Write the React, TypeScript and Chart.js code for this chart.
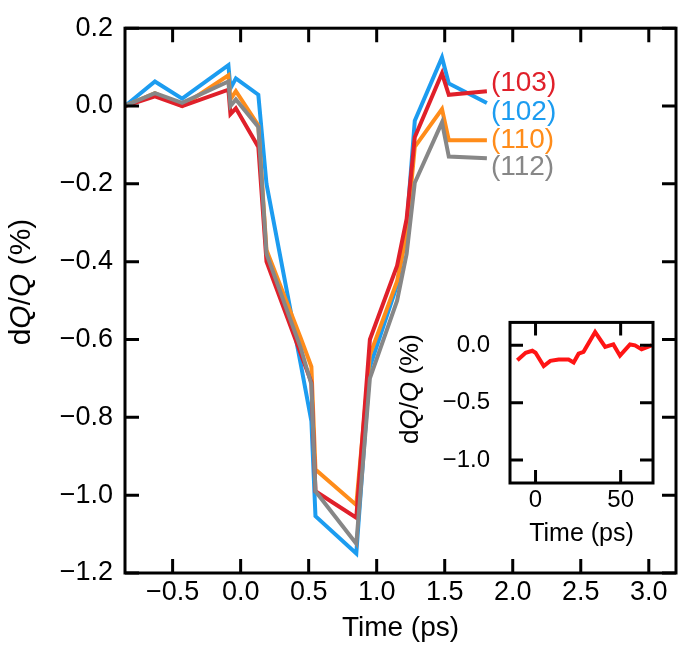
import React, { useEffect, useRef } from "react";
import { Chart, registerables } from "chart.js";
Chart.register(...registerables);

// ---------- data ----------
const TIME_PS = [-0.85, -0.63, -0.43, -0.09, -0.075, -0.035, 0.13, 0.19, 0.44, 0.52, 0.55, 0.85, 0.95, 1.15, 1.22, 1.28, 1.48, 1.53, 1.81];
const S103 = [0.0, 0.025, 0.0, 0.042, -0.021, -0.006, -0.105, -0.40, -0.635, -0.71, -0.99, -1.058, -0.60, -0.41, -0.29, -0.08, 0.084, 0.029, 0.038];
const S102 = [0.0, 0.063, 0.019, 0.105, 0.045, 0.071, 0.029, -0.2, -0.66, -0.81, -1.054, -1.15, -0.67, -0.46, -0.31, -0.038, 0.125, 0.058, 0.008];
const S110 = [0.0, 0.033, 0.0, 0.079, 0.017, 0.038, -0.05, -0.37, -0.595, -0.67, -0.934, -1.025, -0.64, -0.45, -0.33, -0.105, -0.008, -0.088, -0.088];
const S112 = [0.0, 0.033, 0.008, 0.063, 0.0, 0.017, -0.054, -0.38, -0.62, -0.715, -0.99, -1.125, -0.70, -0.50, -0.38, -0.197, -0.042, -0.13, -0.134];

const SERIES_NAMES = ["(112)", "(103)", "(110)", "(102)"];
const SERIES_COLORS = ["#878787", "#e0202a", "#ff8c1a", "#1c9cf0"];
const LABEL_VALUES = [-0.158, 0.058, -0.088, -0.015];

const X_TICKS = [-0.5, 0, 0.5, 1, 1.5, 2, 2.5, 3];
const Y_TICKS = [0.2, 0, -0.2, -0.4, -0.6, -0.8, -1.0, -1.2];

const INSET_T = [-10.7, -5.8, -1.9, 0, 4.8, 8.7, 13.6, 19.4, 22.4, 25.3, 28.2, 35, 40.9, 45.7, 49.6, 55.5, 58.4, 62.3, 68.2];
const INSET_V = [-0.13, -0.065, -0.047, -0.065, -0.18, -0.135, -0.124, -0.124, -0.15, -0.073, -0.057, 0.116, -0.013, 0.008, -0.09, 0.008, 0.0, -0.034, 0.0];
const INSET_X_TICKS = [0, 50];
const INSET_Y_TICKS = [0, -0.5, -1.0];

const FONT = "'Liberation Sans', Arial, Helvetica, sans-serif";

function fmt(v: number, d: number) {
  if (Math.abs(v) < 1e-9) v = 0;
  const s = v.toFixed(d);
  return s.replace("-", "\u2212");
}

function drawYTitle(ctx: CanvasRenderingContext2D, cx: number, cy: number, size: number) {
  const parts: [string, boolean][] = [["d", false], ["Q", true], ["/", false], ["Q", true], [" (%)", false]];
  ctx.save();
  ctx.translate(cx, cy);
  ctx.rotate(-Math.PI / 2);
  ctx.fillStyle = "#000";
  ctx.textBaseline = "middle";
  ctx.textAlign = "left";
  const widths = parts.map(([t, it]) => {
    ctx.font = `${it ? "italic " : ""}${size}px ${FONT}`;
    return ctx.measureText(t).width;
  });
  const total = widths.reduce((a, b) => a + b, 0);
  let x = -total / 2;
  parts.forEach(([t, it], i) => {
    ctx.font = `${it ? "italic " : ""}${size}px ${FONT}`;
    ctx.fillText(t, x, 0);
    x += widths[i];
  });
  ctx.restore();
}

const framePlugin = {
  id: "frame",
  afterDraw(chart: any, _args: any, opts: any) {
    const { ctx, chartArea: a, scales } = chart;
    ctx.save();
    ctx.strokeStyle = "#000";
    ctx.lineWidth = opts.lw;
    ctx.strokeRect(a.left, a.top, a.right - a.left, a.bottom - a.top);
    const L = opts.tick;
    ctx.beginPath();
    for (const t of scales.x.ticks) {
      const px = scales.x.getPixelForValue(t.value);
      ctx.moveTo(px, a.bottom);
      ctx.lineTo(px, a.bottom - L);
      ctx.moveTo(px, a.top);
      ctx.lineTo(px, a.top + L);
    }
    for (const t of scales.y.ticks) {
      const py = scales.y.getPixelForValue(t.value);
      ctx.moveTo(a.left, py);
      ctx.lineTo(a.left + L, py);
      ctx.moveTo(a.right, py);
      ctx.lineTo(a.right - L, py);
    }
    ctx.stroke();
    // titles
    ctx.fillStyle = "#000";
    ctx.font = `${opts.xTitleSize}px ${FONT}`;
    ctx.textAlign = "center";
    ctx.textBaseline = "middle";
    ctx.fillText("Time (ps)", (a.left + a.right) / 2 + opts.xTitleDx, opts.xTitleY);
    drawYTitle(ctx, opts.yTitleX, opts.yTitleY, opts.yTitleSize);
    // series labels
    if (opts.labels) {
      ctx.font = `${opts.labelSize}px ${FONT}`;
      ctx.textAlign = "left";
      chart.data.datasets.forEach((ds: any, i: number) => {
        const last = ds.data[ds.data.length - 1];
        const x = scales.x.getPixelForValue(last.x) + 4;
        const y = scales.y.getPixelForValue(LABEL_VALUES[i]);
        ctx.fillStyle = ds.borderColor;
        ctx.fillText(SERIES_NAMES[i], x, y);
      });
    }
    ctx.restore();
  },
};

function axisCommon(size: number) {
  return {
    grid: { display: false, drawTicks: false },
    border: { display: false },
    ticks: { color: "#000", font: { family: FONT, size }, maxRotation: 0, autoSkip: false },
  };
}

export default function App() {
  const mainRef = useRef<HTMLCanvasElement>(null);
  const insetRef = useRef<HTMLCanvasElement>(null);

  useEffect(() => {
    const seriesVals = [S112, S103, S110, S102];
    const main = new Chart(mainRef.current!, {
      type: "line",
      data: {
        datasets: seriesVals.map((vals, i) => ({
          label: SERIES_NAMES[i],
          data: TIME_PS.map((t, j) => ({ x: t, y: vals[j] })),
          borderColor: SERIES_COLORS[i],
          borderWidth: 4,
          pointRadius: 0,
          tension: 0,
          fill: false,
        })),
      },
      options: {
        animation: false,
        responsive: false,
        events: [],
        layout: { padding: { top: 15, right: 9, left: 0, bottom: 0 } },
        plugins: {
          legend: { display: false },
          tooltip: { enabled: false },
          frame: { lw: 3, tick: 14, xTitleSize: 28, yTitleSize: 30, xTitleY: 628, xTitleDx: 0, yTitleX: 22, yTitleY: 282, labels: true, labelSize: 28 },
        } as any,
        scales: {
          x: {
            type: "linear",
            min: -0.85,
            max: 3.2,
            afterBuildTicks: (s: any) => { s.ticks = X_TICKS.map((v) => ({ value: v })); },
            afterFit: (s: any) => { s.height = 78; },
            ...axisCommon(27),
            ticks: { ...axisCommon(27).ticks, padding: 3, callback: (v: any) => fmt(Number(v), 1) },
          },
          y: {
            type: "linear",
            min: -1.2,
            max: 0.2,
            afterBuildTicks: (s: any) => { s.ticks = Y_TICKS.map((v) => ({ value: v })); },
            afterFit: (s: any) => { s.width = 125; },
            ...axisCommon(27),
            ticks: { ...axisCommon(27).ticks, padding: 12, callback: (v: any) => fmt(Number(v), 1) },
          },
        },
      } as any,
      plugins: [framePlugin],
    });

    const inset = new Chart(insetRef.current!, {
      type: "line",
      data: {
        datasets: [{
          data: INSET_T.map((t, j) => ({ x: t, y: INSET_V[j] })),
          borderColor: "#ff1414",
          borderWidth: 4,
          pointRadius: 0,
          tension: 0,
          fill: false,
        }],
      },
      options: {
        animation: false,
        responsive: false,
        events: [],
        layout: { padding: { top: 15, right: 32, left: 0, bottom: 0 } },
        plugins: {
          legend: { display: false },
          tooltip: { enabled: false },
          frame: { lw: 3, tick: 13, xTitleSize: 25, yTitleSize: 26, xTitleY: 246, xTitleDx: 0, yTitleX: 26, yTitleY: 101, labels: false },
        } as any,
        scales: {
          x: {
            type: "linear",
            min: -15,
            max: 69,
            afterBuildTicks: (s: any) => { s.ticks = INSET_X_TICKS.map((v) => ({ value: v })); },
            afterFit: (s: any) => { s.height = 70; },
            ...axisCommon(24),
            ticks: { ...axisCommon(24).ticks, padding: 3, callback: (v: any) => String(v) },
          },
          y: {
            type: "linear",
            min: -1.2,
            max: 0.2,
            afterBuildTicks: (s: any) => { s.ticks = INSET_Y_TICKS.map((v) => ({ value: v })); },
            afterFit: (s: any) => { s.width = 125; },
            ...axisCommon(24),
            ticks: { ...axisCommon(24).ticks, padding: 20, callback: (v: any) => fmt(Number(v), 1) },
          },
        },
      } as any,
      plugins: [framePlugin],
    });

    return () => { main.destroy(); inset.destroy(); };
  }, []);

  return (
    <div style={{ position: "fixed", left: 0, top: 0, width: 685, height: 651, background: "#fff" }}>
      <canvas ref={mainRef} width={685} height={651} style={{ position: "absolute", left: 0, top: 0, display: "block" }} />
      <canvas ref={insetRef} width={300} height={265} style={{ position: "absolute", left: 385, top: 288, display: "block" }} />
    </div>
  );
}
